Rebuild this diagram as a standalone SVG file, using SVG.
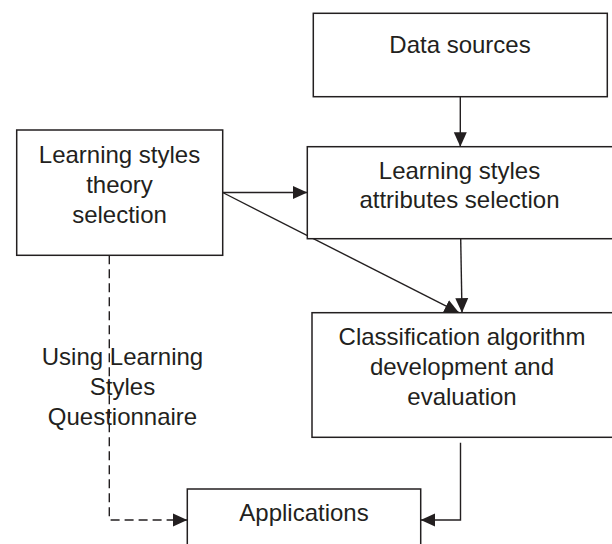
<svg xmlns="http://www.w3.org/2000/svg" width="612" height="544" viewBox="0 0 612 544">
<style>
.box{fill:#fff;stroke:#231f20;stroke-width:1.5}
.t{font-family:"Liberation Sans",Arial,sans-serif;font-size:24px;fill:#231f20;text-anchor:middle}
.c{fill:none;stroke:#231f20;stroke-width:1.4}
.d{stroke-dasharray:9,5}
</style>
<defs>
<marker id="ah" markerUnits="userSpaceOnUse" markerWidth="15" markerHeight="14" refX="14.5" refY="7" orient="auto" viewBox="0 0 15 14">
<path d="M0,0.5 L14.5,7 L0,13.5 z" fill="#231f20"/>
</marker>
</defs>
<g id="connectors">
<path class="c" d="M460.3,96.7 L460.3,146.7" marker-end="url(#ah)"/>
<path class="c" d="M222.7,192.5 L307.3,192.5" marker-end="url(#ah)"/>
<path class="c" d="M222.7,192.5 L459,312.7" marker-end="url(#ah)"/>
<path class="c" d="M460.7,238.7 L462,312.7" marker-end="url(#ah)"/>
<path class="c" d="M460.5,442.7 L460.5,520 L420.7,520" marker-end="url(#ah)"/>
<path class="c d" d="M109.3,255.3 L109.3,520 L187.3,520" marker-end="url(#ah)"/>
</g>
<g id="data-sources">
<rect class="box" x="313.3" y="13.3" width="294" height="83.4"/>
<text class="t" x="460" y="53.3">Data sources</text>
</g>
<g id="theory">
<rect class="box" x="16.7" y="130" width="206" height="125.3"/>
<text class="t" x="119.5" y="162.7">Learning styles</text>
<text class="t" x="119.5" y="192.7">theory</text>
<text class="t" x="119.5" y="222.7">selection</text>
</g>
<g id="attributes">
<rect class="box" x="307.3" y="146.7" width="310" height="92"/>
<text class="t" x="459.5" y="179">Learning styles</text>
<text class="t" x="459.5" y="208.3">attributes selection</text>
</g>
<g id="classification">
<rect class="box" x="312" y="312.7" width="305" height="124.6"/>
<text class="t" x="462" y="345">Classification algorithm</text>
<text class="t" x="462" y="375">development and</text>
<text class="t" x="462" y="405">evaluation</text>
</g>
<g id="applications">
<rect class="box" x="187.3" y="489" width="233.4" height="70"/>
<text class="t" x="304" y="521">Applications</text>
</g>
<g id="label-questionnaire">
<text class="t" x="122.5" y="365">Using Learning</text>
<text class="t" x="122.5" y="395">Styles</text>
<text class="t" x="122.5" y="425">Questionnaire</text>
</g>
</svg>
